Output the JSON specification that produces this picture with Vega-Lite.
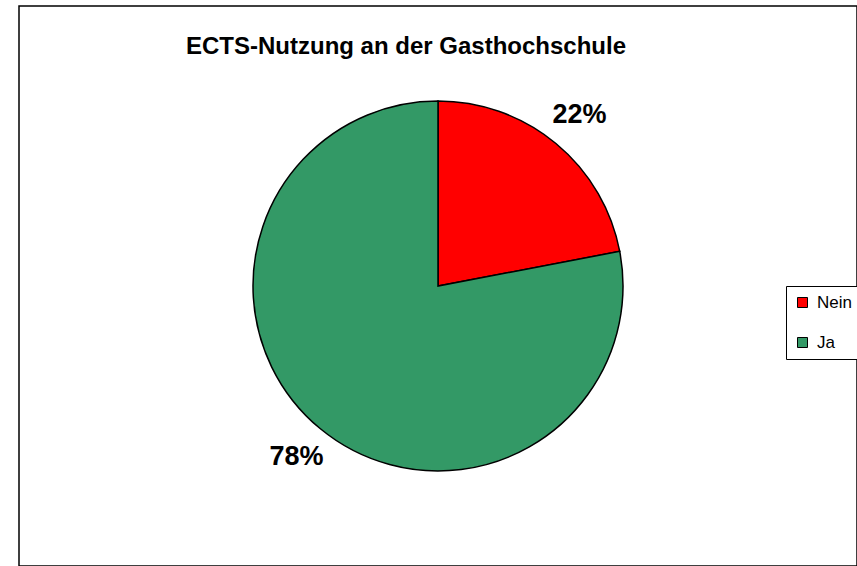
{
  "$schema": "https://vega.github.io/schema/vega-lite/v6.json",
  "width": 838,
  "height": 560,
  "padding": {"left": 19, "top": 6, "right": 0, "bottom": 0},
  "autosize": {"type": "none"},
  "background": "white",
  "config": {
    "font": "Liberation Sans",
    "view": {"stroke": "black", "strokeWidth": 1.5},
    "style": {"view": {"stroke": "black", "strokeWidth": 1.5}}
  },
  "title": {
    "text": "ECTS-Nutzung an der Gasthochschule",
    "fontSize": 24,
    "fontWeight": "bold",
    "color": "black",
    "anchor": "middle",
    "baseline": "alphabetic",
    "offset": -72,
    "dx": -32
  },
  "data": {
    "values": [
      {"Antwort": "Nein", "Anteil": 22, "Label": "22%"},
      {"Antwort": "Ja", "Anteil": 78, "Label": "78%"}
    ]
  },
  "encoding": {
    "theta": {"field": "Anteil", "type": "quantitative", "stack": true},
    "order": {"field": "Anteil", "type": "quantitative", "sort": "ascending"}
  },
  "layer": [
    {
      "mark": {"type": "arc", "radius": 185, "stroke": "black", "strokeWidth": 1.5},
      "encoding": {
        "color": {
          "field": "Antwort",
          "type": "nominal",
          "scale": {"domain": ["Nein", "Ja"], "range": ["#FF0000", "#339966"]},
          "legend": {
            "title": null,
            "orient": "none",
            "legendX": 767,
            "legendY": 280,
            "symbolType": "square",
            "symbolSize": 100,
            "symbolStrokeColor": "black",
            "symbolStrokeWidth": 1,
            "labelFontSize": 17,
            "labelColor": "black",
            "labelOffset": 6,
            "rowPadding": 22,
            "padding": 8,
            "strokeColor": "black",
            "fillColor": "white"
          }
        }
      }
    },
    {
      "mark": {"type": "text", "radius": 222, "fontSize": 27, "fontWeight": "bold", "color": "black"},
      "encoding": {
        "text": {"field": "Label", "type": "nominal"}
      }
    }
  ]
}
